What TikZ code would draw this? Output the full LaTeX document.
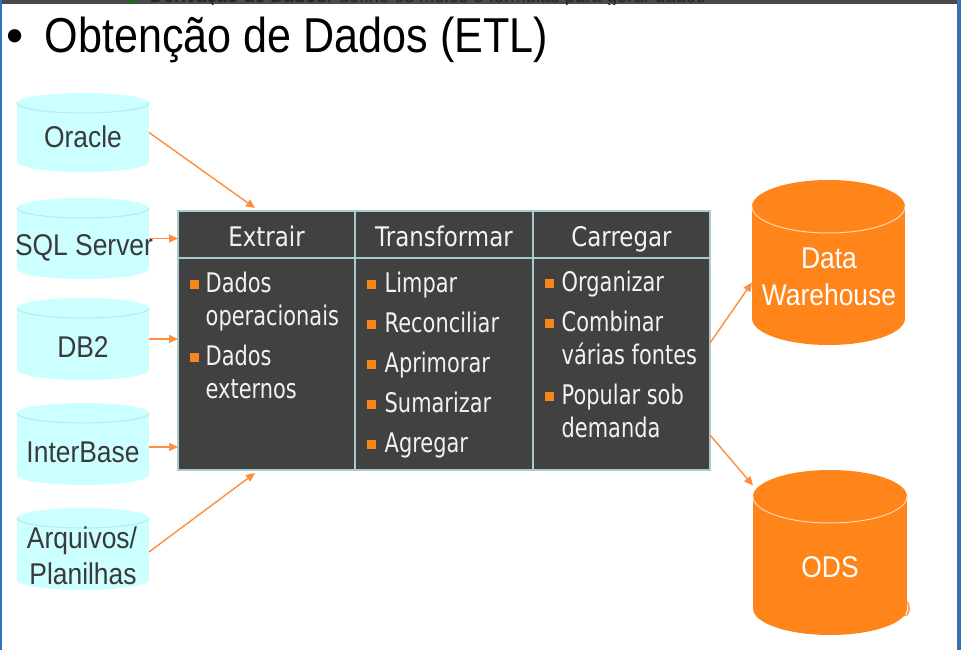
\documentclass[tikz,border=0pt]{standalone}
\usepackage{fontspec}
\setmainfont{Liberation Sans}
\newfontfamily\tabfont{DejaVu Sans}
\usetikzlibrary{arrows.meta,calc}
\definecolor{cylcyan}{HTML}{CCFFFF}
\definecolor{cylcyanline}{HTML}{B3EBEE}
\definecolor{dborange}{HTML}{FF841A}
\definecolor{dbline}{HTML}{FFD6B0}
\definecolor{arrorange}{HTML}{FF8E3C}
\definecolor{tabfill}{HTML}{414141}
\definecolor{tabline}{HTML}{A9CACE}
\definecolor{tabtext}{HTML}{F2F2F2}
\definecolor{bulorange}{HTML}{F7861C}
\definecolor{srctext}{HTML}{3A3A3A}
\definecolor{bandgray}{HTML}{4A4A4A}
\definecolor{edgeblue}{HTML}{2B74C2}
\definecolor{numorange}{HTML}{F4A060}

\newcommand\arialtxt[1]{\scalebox{0.88}[1]{#1}}
\newcommand\headtxt[1]{\scalebox{0.85}[1]{#1}}
\newcommand\bodytxt[1]{\scalebox{0.775}[1]{#1}}
% #1 cx, #2 top, #3 bottom, #4 rx, #5 ry, #6 fill, #7 inner line
\newcommand\cylshape[7]{%
  \fill[#6] ({#1-#4},{#2+#5}) rectangle ({#1+#4},{#3-#5});
  \fill[#6] (#1,{#3-#5}) ellipse [x radius=#4pt, y radius=#5pt];
  \fill[#6] (#1,{#2+#5}) ellipse [x radius=#4pt, y radius=#5pt];
  \begin{scope}
    \clip ({#1-#4-2},{#2+#5}) rectangle ({#1+#4+2},{#2+2*#5+2});
    \draw[#7, line width=1pt] (#1,{#2+#5}) ellipse [x radius=#4pt, y radius=#5pt];
  \end{scope}}

\tikzset{
  srclbl/.style={anchor=base, text=srctext, font=\fontsize{30}{36}\selectfont, inner sep=0pt},
  dblbl/.style={anchor=base, text=white, font=\fontsize{30}{36}\selectfont, inner sep=0pt},
  cylbox/.style={inner sep=0pt, outer sep=0pt, draw=none},
  cell/.style={draw=tabline, line width=1.5pt, fill=tabfill, inner sep=0pt, outer sep=0pt, anchor=north west},
  hlbl/.style={anchor=base, text=tabtext, font=\tabfont\fontsize{27}{32}\selectfont, inner sep=0pt},
  blbl/.style={anchor=base west, text=tabtext, font=\tabfont\fontsize{27}{32}\selectfont, inner sep=0pt},
  bsq/.style={fill=bulorange, minimum size=9pt, inner sep=0pt},
  arr/.style={draw=arrorange, line width=1.4pt, -{Triangle[length=9pt,width=8pt]}}
}

\begin{document}
\begin{tikzpicture}[x=1pt,y=-1pt]
\useasboundingbox (0,0) rectangle (961,650);
\fill[white] (0,0) rectangle (961,650);

% top band with clipped text
\fill[bandgray] (0,0) rectangle (961,4.5);
\begin{scope}
  \clip (0,0) rectangle (961,4.5);
  \fill[green!50!black] (130,0) rectangle (134,4.5);
  \node[anchor=base west, inner sep=0pt, text=black!85, font=\fontsize{21}{24}\selectfont] (band) at (150,3)
    {\arialtxt{\textbf{Derivação de Dados}: define os meios e fórmulas para gerar dados}};
\end{scope}

% window edges
\fill[edgeblue] (0,0) rectangle (2,650);
\fill[black!60] (956.5,0) rectangle (958,650);
\fill[edgeblue] (958,0) rectangle (961,650);

% title
\node[anchor=base, inner sep=0pt, font=\fontsize{49}{55}\selectfont] (tbul) at (15.5,53) {•};
\node[anchor=base west, inner sep=0pt, font=\fontsize{49}{55}\selectfont] (title) at (44.5,53)
  {\arialtxt{Obtenção de Dados (ETL)}};

% source cylinders
\cylshape{83}{93}{172}{66}{10}{cylcyan}{cylcyanline}
\cylshape{83}{198}{279}{66}{10}{cylcyan}{cylcyanline}
\cylshape{83}{298}{380}{66}{10}{cylcyan}{cylcyanline}
\cylshape{83}{403}{485}{66}{10}{cylcyan}{cylcyanline}
\cylshape{83}{508}{590}{66}{10}{cylcyan}{cylcyanline}
\node[cylbox, minimum width=132pt, minimum height=79pt] (ora) at (83,132.5) {};
\node[cylbox, minimum width=132pt, minimum height=81pt] (sql) at (83,238.5) {};
\node[cylbox, minimum width=132pt, minimum height=82pt] (db2) at (83,339) {};
\node[cylbox, minimum width=132pt, minimum height=82pt] (ib) at (83,444) {};
\node[cylbox, minimum width=132pt, minimum height=82pt] (arq) at (83,549) {};
\node[srclbl] (oratxt) at (83,148) {\arialtxt{Oracle}};
\node[srclbl] (sqltxt) at (84,255) {\arialtxt{SQL Server}};
\node[srclbl] (db2txt) at (83,357) {\arialtxt{DB2}};
\node[srclbl] (ibtxt) at (83,462) {\arialtxt{InterBase}};
\node[srclbl] (arqtxt1) at (82,548) {\arialtxt{Arquivos/}};
\node[srclbl] (arqtxt2) at (83,584) {\arialtxt{Planilhas}};

% slide number remnant behind ODS
\node[anchor=base east, inner sep=0pt, text=numorange, font=\fontsize{22}{24}\selectfont] (pgnum) at (911,616) {0};

% target cylinders
\cylshape{828.5}{180}{345}{76.5}{26.5}{dborange}{dbline}
\cylshape{830}{470}{635}{77}{26.5}{dborange}{dbline}
\node[cylbox, minimum width=153pt, minimum height=165pt] (dw) at (828.5,262.5) {};
\node[cylbox, minimum width=154pt, minimum height=165pt] (ods) at (830,552.5) {};
\node[dblbl] (dwtxt1) at (829,268) {\arialtxt{Data}};
\node[dblbl] (dwtxt2) at (829,305) {\arialtxt{Warehouse}};
\node[dblbl] (odstxt) at (830,577) {\arialtxt{ODS}};

% ETL table
\node[cell, minimum width=177pt, minimum height=47pt] (h1) at (178,211) {};
\node[cell, minimum width=178pt, minimum height=47pt] (h2) at (355,211) {};
\node[cell, minimum width=177pt, minimum height=47pt] (h3) at (533,211) {};
\node[cell, minimum width=177pt, minimum height=212pt] (e1) at (178,258) {};
\node[cell, minimum width=178pt, minimum height=212pt] (e2) at (355,258) {};
\node[cell, minimum width=177pt, minimum height=212pt] (e3) at (533,258) {};

\node[hlbl] (h1t) at (266.5,246) {\headtxt{Extrair}};
\node[hlbl] (h2t) at (444,246) {\headtxt{Transformar}};
\node[hlbl] (h3t) at (621.5,246) {\headtxt{Carregar}};

% column 1
\node[bsq] (b11) at (194,284) {};
\node[bsq] (b12) at (194,357) {};
\node[blbl] (t11) at (205.5,292) {\bodytxt{Dados}};
\node[blbl] (t12) at (205.5,325) {\bodytxt{operacionais}};
\node[blbl] (t13) at (205.5,365) {\bodytxt{Dados}};
\node[blbl] (t14) at (205.5,398) {\bodytxt{externos}};
% column 2
\node[bsq] (b21) at (371.5,284) {};
\node[bsq] (b22) at (371.5,324) {};
\node[bsq] (b23) at (371.5,364) {};
\node[bsq] (b24) at (371.5,404) {};
\node[bsq] (b25) at (371.5,444) {};
\node[blbl] (t21) at (384.5,292) {\bodytxt{Limpar}};
\node[blbl] (t22) at (384.5,332) {\bodytxt{Reconciliar}};
\node[blbl] (t23) at (384.5,372) {\bodytxt{Aprimorar}};
\node[blbl] (t24) at (384.5,412) {\bodytxt{Sumarizar}};
\node[blbl] (t25) at (384.5,452) {\bodytxt{Agregar}};
% column 3
\node[bsq] (b31) at (549.5,283) {};
\node[bsq] (b32) at (549.5,323) {};
\node[bsq] (b33) at (549.5,396) {};
\node[blbl] (t31) at (561.5,291) {\bodytxt{Organizar}};
\node[blbl] (t32) at (561.5,331) {\bodytxt{Combinar}};
\node[blbl] (t33) at (561.5,364) {\bodytxt{várias fontes}};
\node[blbl] (t34) at (561.5,404) {\bodytxt{Popular sob}};
\node[blbl] (t35) at (561.5,437) {\bodytxt{demanda}};

% connectors
\draw[arr] (ora.east) -- ($(h1.north west)!0.435!(h1.north east)+(0,-3)$);
\draw[arr] (sql.east) -- (sql.east -| h1.west);
\draw[arr] (db2.east) -- (db2.east -| e1.west);
\draw[arr] ($(ib.east)+(0,3)$) -- ($(ib.east -| e1.west)+(0,3)$);
\draw[arr] ($(arq.east)+(0,3)$) -- ($(e1.south west)!0.435!(e1.south east)+(0,3)$);
\draw[arr] ($(e3.east)+(0,-21)$) -- ($(dw.west)+(0,20)$);
\draw[arr] ($(e3.east)+(0,71)$) -- ($(ods.west)+(0,-67)$);
\end{tikzpicture}
\end{document}
